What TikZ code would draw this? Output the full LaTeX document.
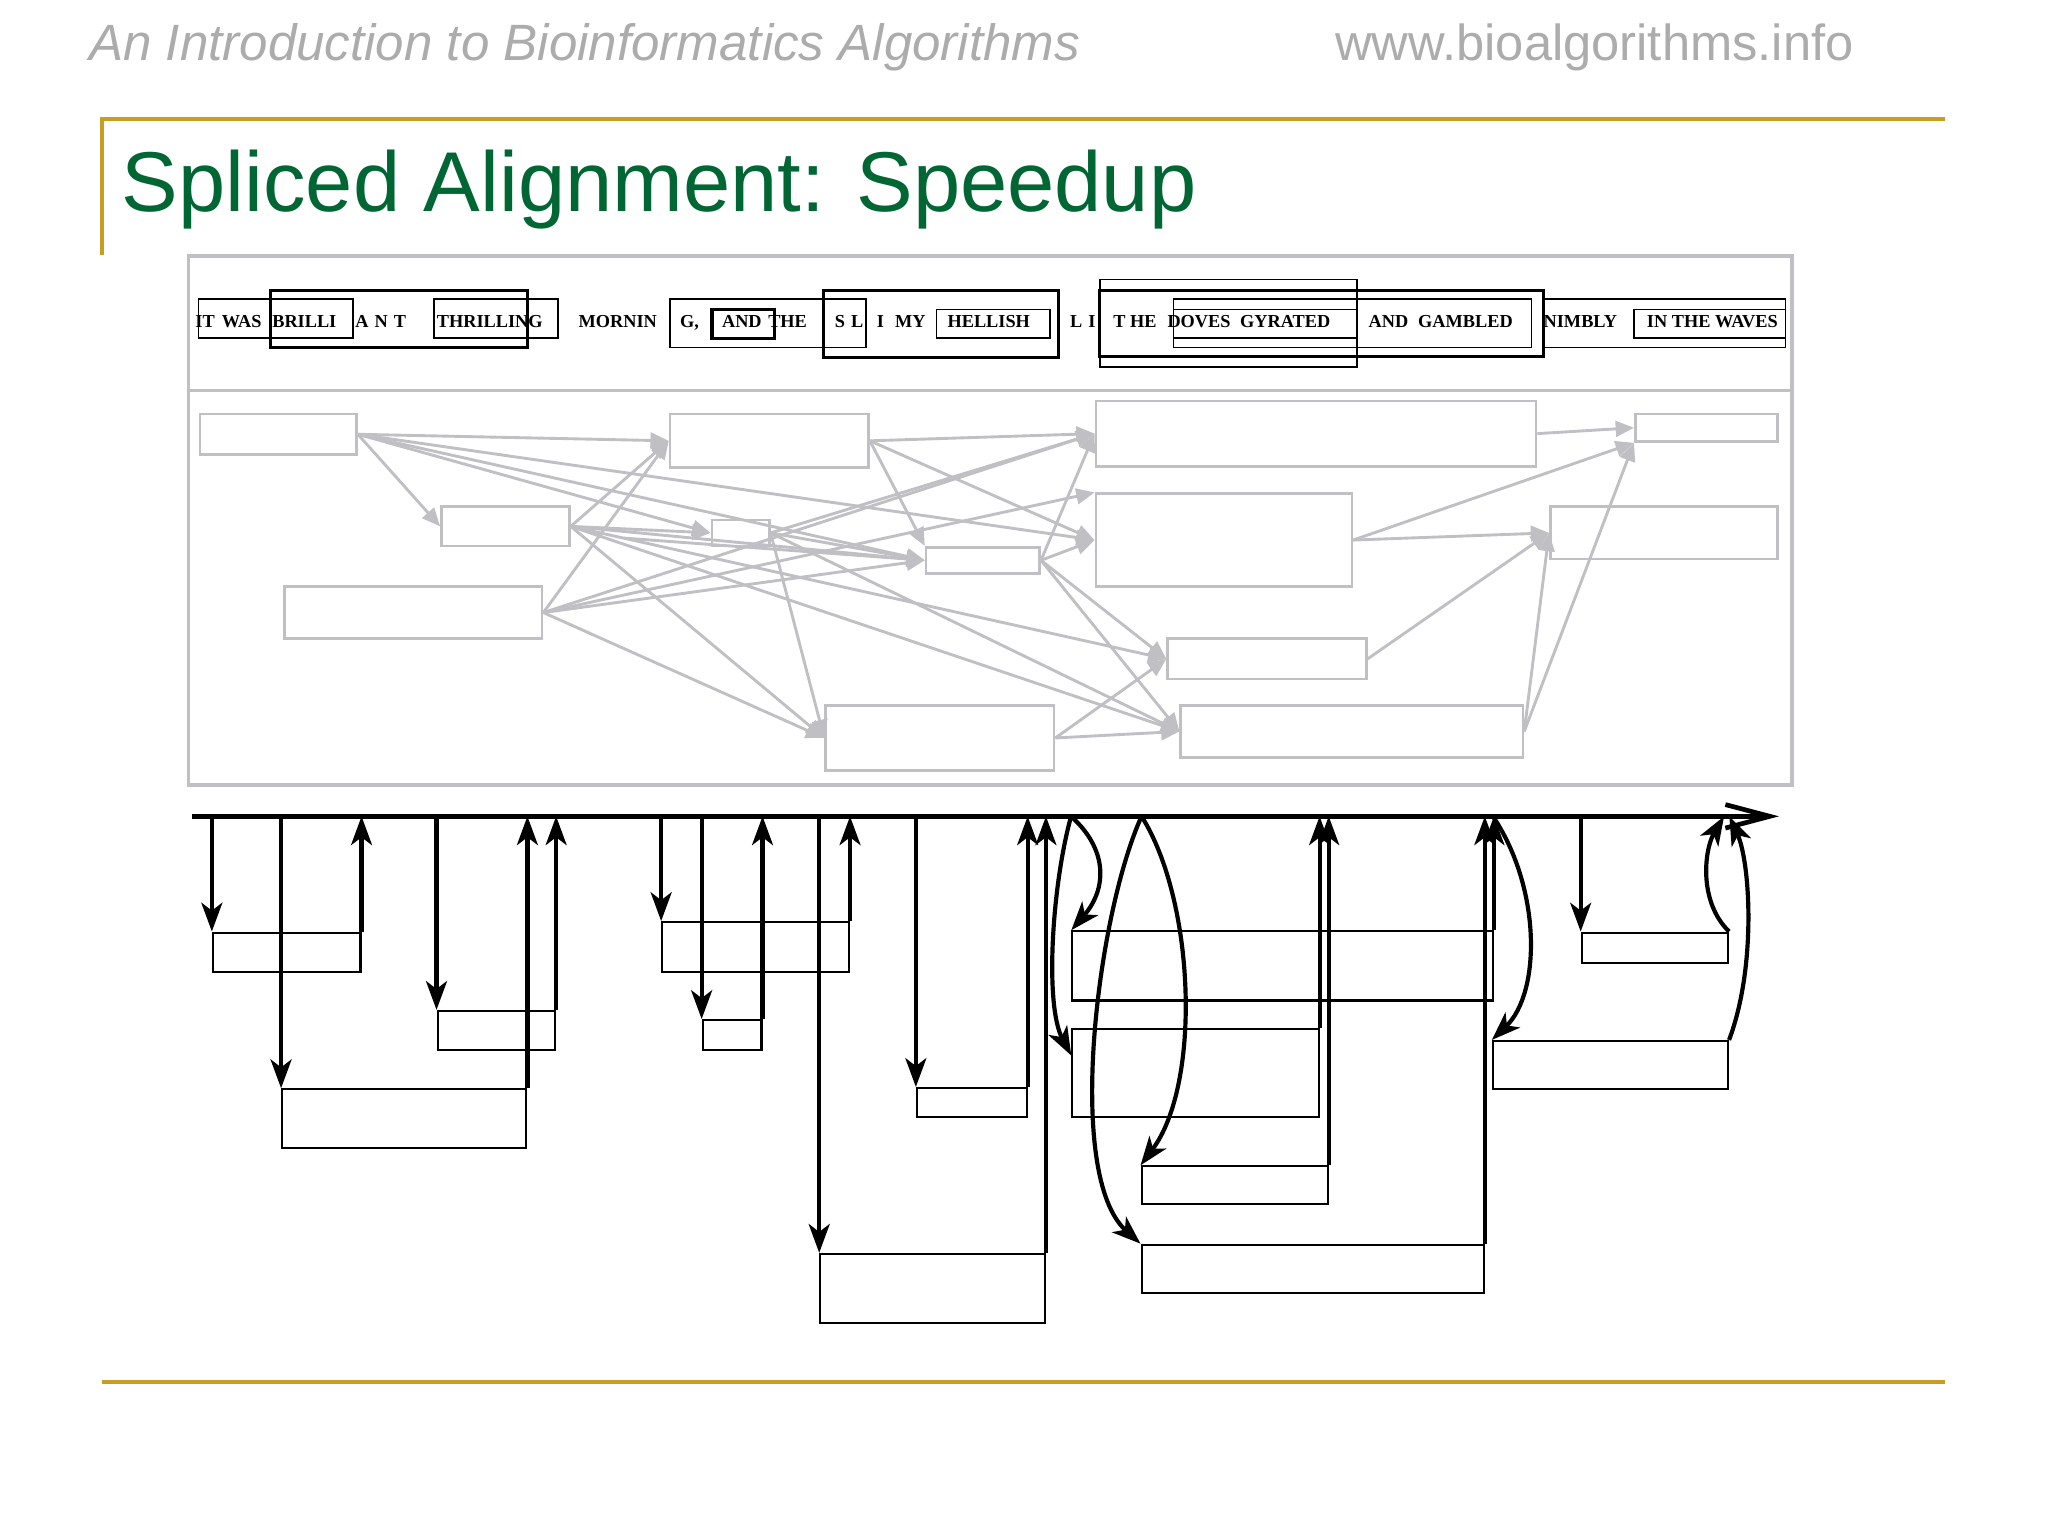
\documentclass[tikz,border=0pt]{standalone}
\usepackage{fontspec}
\setmainfont{Liberation Sans}
\newfontfamily\wordfont{Liberation Serif}
\usetikzlibrary{arrows.meta,fit,calc}
\definecolor{gold}{RGB}{200,158,32}
\definecolor{hdrgrey}{RGB}{172,172,172}
\definecolor{titlegreen}{RGB}{0,102,51}
\definecolor{panelgrey}{RGB}{192,192,196}
\begin{document}
\begin{tikzpicture}[x=0.5pt,y=-0.5pt,
  gbox/.style={draw=panelgrey, line width=1pt, inner sep=0pt},
  garr/.style={draw=panelgrey, line width=1.1pt, -{Triangle[length=7pt,width=6pt]}},
  tbox/.style={draw=black, line width=0.7pt, inner sep=0pt},
  tboxthick/.style={draw=black, line width=1.3pt, inner sep=0pt},
  word/.style={font=\wordfont\bfseries\fontsize{7}{8}\selectfont, anchor=base, inner sep=0pt},
  bbox/.style={draw=black, line width=0.8pt, inner sep=0pt},
  varr/.style={draw=black, line width=1.6pt, -{Stealth[length=11pt,width=8pt,inset=3pt]}},
  axisline/.style={draw=black, line width=1.8pt, -{Straight Barb[length=17pt,width=9pt]}},
  goldline/.style={draw=gold, line width=1.6pt}]
\useasboundingbox (0,0) rectangle (1568,1176);
\fill[white] (0,0) rectangle (1568,1176);

% header
\node[anchor=base west, text=hdrgrey, font=\itshape\fontsize{19.55}{22}\selectfont, inner sep=0pt] (hdr) at (68,46) {An Introduction to Bioinformatics Algorithms};
\node[anchor=base west, text=hdrgrey, font=\fontsize{19.4}{22}\selectfont, inner sep=0pt] (url) at (1022,46) {www.bioalgorithms.info};
\coordinate (gl0) at (78,91); \coordinate (gl1) at (1489,91); \coordinate (gl2) at (78,195);
\coordinate (gb0) at (78,1058); \coordinate (gb1) at (1489,1058);
\draw[goldline] (gl2) -- (gl0) -- (gl1);
\draw[goldline] (gb0) -- (gb1);
\node[anchor=base west, text=titlegreen, font=\fontsize{32.5}{38}\selectfont, inner sep=0pt] (title) at (93,162) {Spliced Alignment: Speedup};

% grey panel
\node[draw=panelgrey, line width=1.2pt, inner sep=0pt, fit={(144,196) (1372,601)}] (panel) {};
\coordinate (dv) at (0,299);
\draw[draw=panelgrey, line width=1.2pt] (panel.west |- dv) -- (panel.east |- dv);

% top row words
\node[word] (w1) at (157,251) {IT};
\node[word] (w2) at (185,251) {WAS};
\node[word] (w3) at (233,251) {BRILLI};
\node[word] (w4) at (291.5,251) {A\,\,N\,\,T};
\node[word] (w5) at (375,251) {THRILLING};
\node[word] (w6) at (473,251) {MORNIN};
\node[word] (w7) at (528,251) {G,};
\node[word] (w8) at (568,251) {AND};
\node[word] (w9) at (603,251) {THE};
\node[word] (w10) at (650,251) {S\,\,L};
\node[word] (w11) at (674,251) {I};
\node[word] (w12) at (697,251) {MY};
\node[word] (w13) at (757,251) {HELLISH};
\node[word] (w14) at (829,251) {L\,\,I};
\node[word] (w15) at (869,251) {T HE};
\node[word] (w16) at (918,251) {DOVES};
\node[word] (w17) at (984,251) {GYRATED};
\node[word] (w18) at (1063,251) {AND};
\node[word] (w19) at (1122,251) {GAMBLED};
\node[word] (w20) at (1210,251) {NIMBLY};
\node[word] (w21) at (1311,251) {IN THE WAVES};

% top row boxes
\node[tbox, fit={(152,229) (270,259)}] (t1) {};
\node[tboxthick, fit={(207,222.5) (404,266)}] (t2) {};
\node[tbox, fit={(332,229) (427.5,259)}] (t3) {};
\node[tbox, fit={(513,229) (663,266)}] (t4) {};
\node[tboxthick, fit={(545,237) (593,259)}] (t5) {};
\node[tboxthick, fit={(630.5,222.5) (810.5,273.5)}] (t6) {};
\node[tbox, fit={(717,237) (804,259)}] (t7) {};
\node[tbox, fit={(842,214) (1039,281)}] (t8) {};
\node[tboxthick, fit={(842,222.5) (1181.5,273)}] (t9) {};
\node[tbox, fit={(898.5,229) (1172.5,266)}] (t10) {};
\node[tbox, fit={(898.5,237) (1039,259)}] (t11) {};
\node[tbox, fit={(1181.5,229) (1367,266)}] (t12) {};
\node[tbox, fit={(1251,237) (1367,259)}] (t13) {};

% grey graph nodes
\node[gbox, fit={(153,317) (273,348)}] (g1) {};
\node[gbox, fit={(513,317) (665,358)}] (g2) {};
\node[gbox, fit={(839,307) (1176,357)}] (g3) {};
\node[gbox, fit={(1252,317) (1361,338)}] (g4) {};
\node[gbox, fit={(338,388) (436,418)}] (g5) {};
\node[gbox, fit={(545,398) (589,418)}] (g6) {};
\node[gbox, fit={(709,419) (796,439)}] (g7) {};
\node[gbox, fit={(839,378) (1035,449)}] (g8) {};
\node[gbox, fit={(1187,388) (1361,428)}] (g9) {};
\node[gbox, fit={(218,449) (415,489)}] (g10) {};
\node[gbox, fit={(894,489) (1046,520)}] (g11) {};
\node[gbox, fit={(632,540) (807,590)}] (g12) {};
\node[gbox, fit={(904,540) (1166,580)}] (g13) {};
\coordinate (fs) at (478,412);

% grey edges
\draw[garr] (g1.east) -- (g2.west);
\draw[garr] (g1.east) -- (g5.west);
\draw[garr] (g1.east) -- (g6.west);
\draw[garr] (g1.east) -- (g7.west);
\draw[garr] (g1.east) -- (g8.west);
\draw[garr] (g5.east) -- (g6.west);
\draw[garr] (g5.east) -- (g2.west);
\draw[garr] (g5.east) -- (g7.west);
\draw[garr] (g5.east) -- (g11.west);
\draw[garr] (g5.east) -- (g12.west);
\draw[garr] (g5.east) -- (g13.west);
\draw[garr] (g10.east) -- (g2.west);
\draw[garr] (g10.east) -- (g3.west);
\draw[garr] (g10.east) -- (g8.north west);
\draw[garr] (g10.east) -- (g7.west);
\draw[garr] (g10.east) -- (g12.west);
\draw[garr] (g6.east) -- (g3.west);
\draw[garr] (g6.east) -- (g12.west);
\draw[garr] (g6.east) -- (g7.west);
\draw[garr] (g6.east) -- (g13.west);
\draw[garr] (g2.east) -- (g3.west);
\draw[garr] (g2.east) -- (g7.north west);
\draw[garr] (g2.east) -- (g8.west);
\draw[garr] (g7.east) -- (g3.west);
\draw[garr] (g7.east) -- (g8.west);
\draw[garr] (g7.east) -- (g11.west);
\draw[garr] (g7.east) -- (g13.west);
\draw[garr] (g12.east) -- (g11.west);
\draw[garr] (g12.east) -- (g13.west);
\draw[garr] (g8.east) -- (g4.south west);
\draw[garr] (g8.east) -- (g9.west);
\draw[garr] (g11.east) -- (g9.west);
\draw[garr] (g13.east) -- (g9.west);
\draw[garr] (g13.east) -- (g4.south west);
\draw[garr] (g3.east) -- (g4.west);
\draw[garr] (fs) -- (g7.west);

% black bottom boxes
\node[bbox, fit={(163,714) (276,744)}] (A1) {};
\node[bbox, fit={(335,774) (425,804)}] (A2) {};
\node[bbox, fit={(216,834) (403,879)}] (A3) {};
\node[bbox, fit={(507,706) (650,744)}] (B1) {};
\node[bbox, fit={(538,781) (583,804)}] (B2) {};
\node[bbox, fit={(628,960) (800,1013)}] (B3) {};
\node[bbox, fit={(702,833) (786,855)}] (B4) {};
\node[bbox, fit={(821,713) (1143,766)}] (C1) {};
\node[bbox, fit={(821,788) (1009.5,855)}] (C2) {};
\node[bbox, fit={(874,893) (1016.5,922)}] (C3) {};
\node[bbox, fit={(874,953) (1136,990)}] (C4) {};
\node[bbox, fit={(1143,797) (1323,834)}] (D1) {};
\node[bbox, fit={(1211,714) (1323,737)}] (D2) {};

% main axis
\coordinate (ml0) at (147,625);
\coordinate (ml1) at (1362,625);
\draw[axisline] (ml0) -- (ml1);

% straight verticals
\draw[varr] (A1.north west |- ml0) -- (A1.north west);
\draw[varr] (A1.north east) -- (A1.north east |- ml0);
\draw[varr] (A3.north west |- ml0) -- (A3.north west);
\draw[varr] (A3.north east) -- (A3.north east |- ml0);
\draw[varr] (A2.north west |- ml0) -- (A2.north west);
\draw[varr] (A2.north east) -- (A2.north east |- ml0);
\draw[varr] (B1.north west |- ml0) -- (B1.north west);
\draw[varr] (B1.north east) -- (B1.north east |- ml0);
\draw[varr] (B2.north west |- ml0) -- (B2.north west);
\draw[varr] (B2.north east) -- (B2.north east |- ml0);
\draw[varr] (B3.north west |- ml0) -- (B3.north west);
\draw[varr] (B3.north east) -- (B3.north east |- ml0);
\draw[varr] (B4.north west |- ml0) -- (B4.north west);
\draw[varr] (B4.north east) -- (B4.north east |- ml0);
\draw[varr] (C2.north east) -- (C2.north east |- ml0);
\draw[varr] (C3.north east) -- (C3.north east |- ml0);
\draw[varr] (C4.north east) -- (C4.north east |- ml0);
\draw[varr] (C1.north east) -- (C1.north east |- ml0);
\draw[varr] (D2.north west |- ml0) -- (D2.north west);

% curved connectors
\coordinate (ca) at (820,625);
\coordinate (cc) at (874,625);
\coordinate (ce) at (1143,625);
\coordinate (cf) at (1320,625);
\coordinate (cg) at (1324,625);
\draw[varr] (ca) .. controls (848,650) and (848,680) .. (C1.north west);
\draw[varr] (ca) .. controls (805,680) and (800,770) .. (C2.172);
\draw[varr] (cc) .. controls (840,700) and (815,900) .. (C4.north west);
\draw[varr] (cc) .. controls (915,690) and (920,830) .. (C3.north west);
\draw[varr] (ce) .. controls (1180,680) and (1180,760) .. (D1.north west);
\draw[varr] (D2.north east) .. controls (1300,690) and (1305,650) .. (cf);
\draw[varr] (D1.north east) .. controls (1345,740) and (1340,660) .. (cg);
\end{tikzpicture}
\end{document}
